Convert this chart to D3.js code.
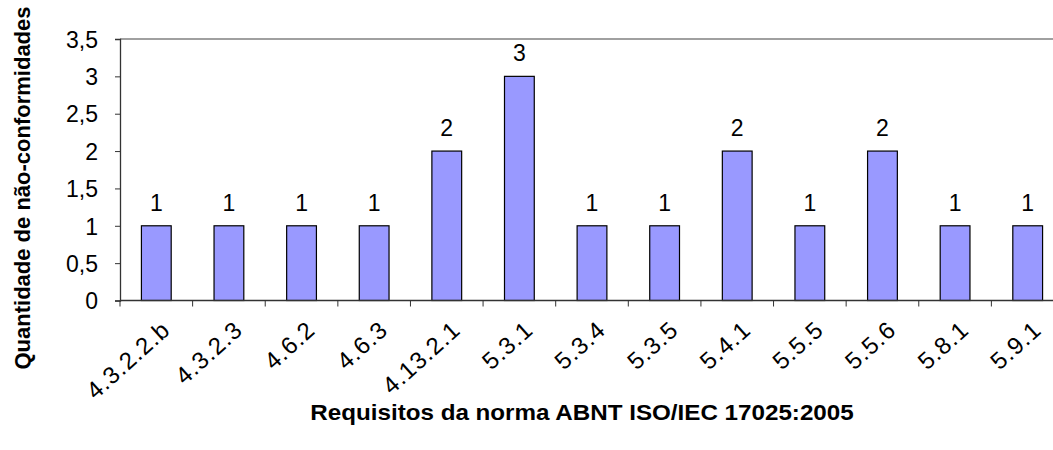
<!DOCTYPE html>
<html>
<head>
	<meta charset="utf-8">
	<title>Requisitos ABNT ISO/IEC 17025:2005</title>
	<style>
		body { margin: 0; background: white; }
		svg { display: block; font-family: 'Liberation Sans', Arial, sans-serif; }
	</style>
</head>
<body>
	<svg width="1053" height="450"></svg>
<script src="https://d3js.org/d3.v7.min.js"></script>
<script>

	// data
	let requisitos = ['4.3.2.2.b', '4.3.2.3', '4.6.2', '4.6.3', '4.13.2.1', '5.3.1',
		'5.3.4', '5.3.5', '5.4.1', '5.5.5', '5.5.6', '5.8.1', '5.9.1']
	let naoConformidades = [1, 1, 1, 1, 2, 3, 1, 1, 2, 1, 2, 1, 1]
	let yTicks = [0, 0.5, 1, 1.5, 2, 2.5, 3, 3.5]

	let data = requisitos.map((r, i) => ({ req: r, n: naoConformidades[i] }))

	let svg = d3.select('svg')

	// plot area (the right end runs past the picture, as in the original)
	let plotLeft = 120, plotRight = 1064, plotTop = 39, plotBottom = 300.5

	let x = d3.scaleBand()
		.domain(requisitos)
		.range([plotLeft, plotRight])
		.paddingInner(0.59)
		.paddingOuter(0.295)

	let y = d3.scaleLinear()
		.domain([0, 3.5])
		.range([plotBottom, plotTop])

	// top border line
	svg.append('line')
		.attr('x1', plotLeft).attr('x2', plotRight)
		.attr('y1', plotTop).attr('y2', plotTop)
		.style('stroke', '#808080')
		.style('stroke-width', 1.5)

	// bars
	svg.append('g')
		.selectAll('rect')
		.data(data)
		.join('rect')
		.attr('x', d => x(d.req))
		.attr('y', d => y(d.n))
		.attr('width', x.bandwidth())
		.attr('height', d => plotBottom - y(d.n))
		.style('fill', '#9999ff')
		.style('stroke', 'black')
		.style('stroke-width', 1.2)

	// value labels
	svg.append('g')
		.selectAll('text')
		.data(data)
		.join('text')
		.attr('x', d => x(d.req) + x.bandwidth() / 2)
		.attr('y', d => y(d.n) - 15)
		.attr('text-anchor', 'middle')
		.style('font-size', '23px')
		.text(d => d.n)

	// y axis
	let yAxis = svg.append('g')
		.attr('transform', `translate(${plotLeft},0)`)
		.call(d3.axisLeft(y).tickValues(yTicks).tickSize(5).tickPadding(17)
			.tickFormat(d => String(d).replace('.', ',')))
	yAxis.select('.domain').style('stroke', '#333').style('stroke-width', 1.3)
	yAxis.selectAll('.tick line').style('stroke', '#333')
	yAxis.selectAll('.tick text')
		.attr('dy', '0.36em')
		.attr('fill', 'black')
		.style('font-size', '23px')
		.style('font-family', "'Liberation Sans', Arial, sans-serif")

	// x axis: ticks on band boundaries
	let bounds = requisitos.map(r => x(r) - x.step() * x.paddingInner() / 2)
	svg.append('line')
		.attr('x1', plotLeft).attr('x2', plotRight)
		.attr('y1', plotBottom).attr('y2', plotBottom)
		.style('stroke', '#333')
		.style('stroke-width', 1.3)
	svg.append('g')
		.selectAll('line')
		.data(bounds)
		.join('line')
		.attr('x1', d => Math.max(d, plotLeft)).attr('x2', d => Math.max(d, plotLeft))
		.attr('y1', plotBottom).attr('y2', plotBottom + 6)
		.style('stroke', '#333')

	// rotated category labels
	svg.append('g')
		.selectAll('text')
		.data(requisitos)
		.join('text')
		.attr('transform', d => `translate(${x(d) + x.bandwidth() / 2 + 4},${plotBottom + 19}) rotate(-42)`)
		.attr('text-anchor', 'end')
		.attr('dy', '0.7em')
		.style('font-size', '24px')
		.style('letter-spacing', '1px')
		.text(d => d)

	// axis titles
	svg.append('text')
		.attr('transform', 'translate(582,420) scale(1.1,1)')
		.attr('text-anchor', 'middle')
		.style('font-size', '22px')
		.style('font-weight', 'bold')
		.text('Requisitos da norma ABNT ISO/IEC 17025:2005')

	svg.append('text')
		.attr('transform', 'translate(30,188) rotate(-90)')
		.attr('text-anchor', 'middle')
		.style('font-size', '22px')
		.style('font-weight', 'bold')
		.text('Quantidade de não-conformidades')

</script>
</body>
</html>
